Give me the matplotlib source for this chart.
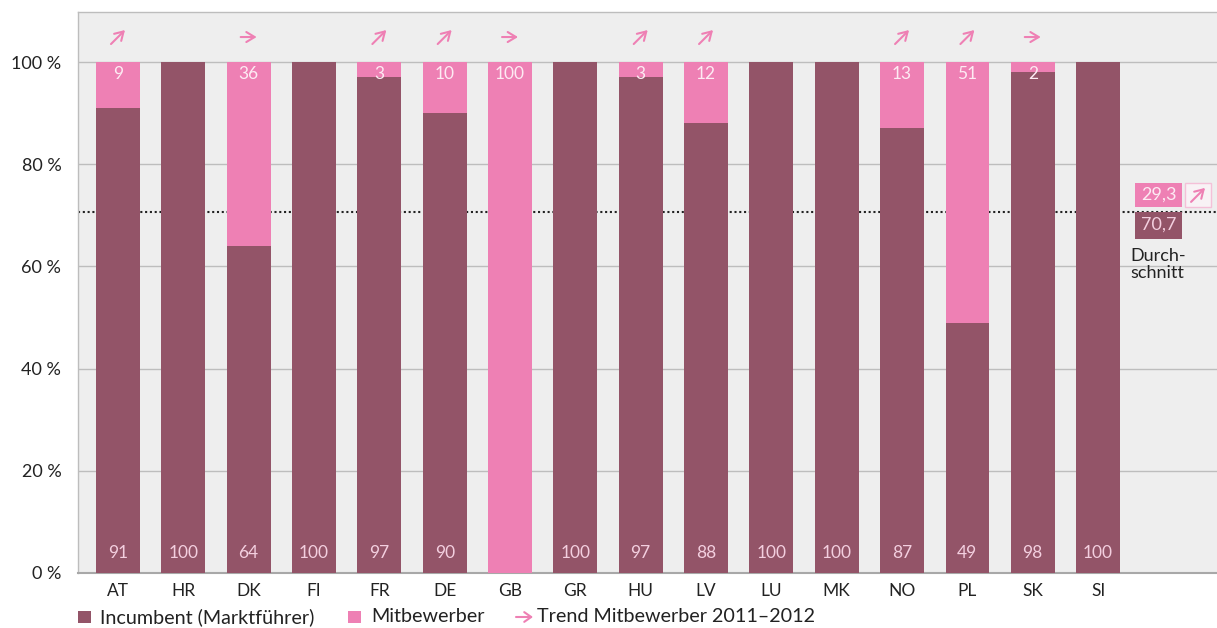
import matplotlib
matplotlib.use("Agg")
import matplotlib.pyplot as plt
from matplotlib.patches import Rectangle, FancyArrowPatch

plt.rcParams['font.family'] = ['Lato', 'DejaVu Sans']

# Market shares per country (percent)
countries = ["AT", "HR", "DK", "FI", "FR", "DE", "GB", "GR", "HU", "LV",
             "LU", "MK", "NO", "PL", "SK", "SI"]
incumbent = [91, 100, 64, 100, 97, 90, 0, 100, 97, 88, 100, 100, 87, 49, 98, 100]
competitors = [9, 0, 36, 0, 3, 10, 100, 0, 3, 12, 0, 0, 13, 51, 2, 0]
# Trend of competitors 2011-2012: "up", "flat" or "" (none)
trend = ["up", "", "flat", "", "up", "up", "flat", "", "up", "up",
         "", "", "up", "up", "flat", ""]
avg_incumbent = 70.7
avg_competitors = 29.3
avg_trend = "up"
yticks = [0, 20, 40, 60, 80, 100]

MAUVE = "#935468"
PINK = "#EE80B4"
BG = "#EEEEEE"
GRID = "#BDBDBD"
LABEL_DARK = "#F3CFDF"
LABEL_LIGHT = "#FDEBF3"
TEXT = "#222222"

W, H = 1217, 628
fig = plt.figure(figsize=(W / 100, H / 100), dpi=100)
ax = fig.add_axes([0.0641, 0.0876, 0.9359, 0.8933])
ax.set_facecolor(BG)

XMIN, XMAX, YMAX = -0.612, 16.82, 109.8
ax.set_xlim(XMIN, XMAX)
ax.set_ylim(0, YMAX)

# data units per pixel, for sizing the small trend arrows
ax_w_px = 0.9359 * W
ax_h_px = 0.8933 * H
PX_X = (XMAX - XMIN) / ax_w_px
PX_Y = YMAX / ax_h_px

ARROW_STYLE = "->,head_length=0.6,head_width=0.36"


def trend_arrow(xc, yc, kind, zorder=5):
    """Draw a small trend arrow centred at (xc, yc) in data coordinates."""
    if kind == "up":
        dx, dy = 7 * PX_X, 7 * PX_Y
    else:
        dx, dy = 8 * PX_X, 0
    ax.annotate("", xy=(xc + dx, yc + dy), xytext=(xc - dx, yc - dy),
                arrowprops=dict(arrowstyle=ARROW_STYLE, color=PINK, lw=1.5,
                                shrinkA=0, shrinkB=0),
                zorder=zorder, annotation_clip=False)


x = list(range(len(countries)))
w = 0.67
ax.bar(x, incumbent, width=w, color=MAUVE, zorder=3)
ax.bar(x, competitors, width=w, bottom=incumbent, color=PINK, zorder=3)

for xi, inc, comp, tr in zip(x, incumbent, competitors, trend):
    if inc > 0:
        ax.text(xi, 4.0, f"{inc}", ha="center", va="center", color=LABEL_DARK,
                fontsize=12.5, zorder=5)
    if comp > 0:
        ax.text(xi, 97.6, f"{comp}", ha="center", va="center", color=LABEL_LIGHT,
                fontsize=12.5, zorder=5)
    if tr:
        trend_arrow(xi, 104.9, tr)

# Average line
ax.axhline(avg_incumbent, color="#222222", linestyle=(0, (1, 1.3)),
           linewidth=1.5, zorder=2)

# Average boxes on the right
bx0, bx1 = 15.57, 16.29
ax.add_patch(Rectangle((bx0, avg_incumbent + 0.9), bx1 - bx0, 4.8,
                       facecolor=PINK, edgecolor="none", zorder=4))
ax.text((bx0 + bx1) / 2, avg_incumbent + 3.3, f"{avg_competitors:.1f}".replace(".", ","),
        ha="center", va="center", color=LABEL_LIGHT, fontsize=13, zorder=5)
ax.add_patch(Rectangle((bx0, avg_incumbent - 5.3), bx1 - bx0, 5.3,
                       facecolor=MAUVE, edgecolor="none", zorder=4))
ax.text((bx0 + bx1) / 2, avg_incumbent - 2.6, f"{avg_incumbent:.1f}".replace(".", ","),
        ha="center", va="center", color=LABEL_DARK, fontsize=13, zorder=5)
ax.add_patch(Rectangle((16.33, avg_incumbent + 0.9), 0.40, 4.8,
                       facecolor="#F8F2F5", edgecolor="#F4C0D8", linewidth=1, zorder=4))
trend_arrow(16.53, avg_incumbent + 3.3, avg_trend, zorder=6)
ax.text(bx0 - 0.08, avg_incumbent - 7.0, "Durch-\nschnitt", ha="left", va="top",
        fontsize=13, color=TEXT, linespacing=1.12, zorder=5)

ax.set_yticks(yticks)
ax.set_yticklabels([f"{t} %" for t in yticks], fontsize=13, color=TEXT)
ax.set_xticks(x)
ax.set_xticklabels(countries, fontsize=12.5, color=TEXT)
ax.tick_params(axis="both", length=0)
ax.tick_params(axis="y", pad=12)
ax.tick_params(axis="x", pad=7)
ax.grid(axis="y", color=GRID, linewidth=1, zorder=1)
ax.set_axisbelow(True)
for side in ["top", "left"]:
    ax.spines[side].set_color(GRID)
    ax.spines[side].set_linewidth(1)
ax.spines["right"].set_visible(False)
ax.spines["bottom"].set_color("#A8A8A8")
ax.spines["bottom"].set_linewidth(1.5)

# Legend row
ly = 1 - 617 / H
sq_w, sq_h = 13 / W, 12 / H
fig.patches.append(Rectangle((78 / W, ly - sq_h / 2), sq_w, sq_h,
                             transform=fig.transFigure, facecolor=MAUVE,
                             edgecolor="none"))
fig.text(100 / W, ly, "Incumbent (Marktführer)", ha="left", va="center",
         fontsize=14.2, color=TEXT)
fig.patches.append(Rectangle((348 / W, ly - sq_h / 2), sq_w, sq_h,
                             transform=fig.transFigure, facecolor=PINK,
                             edgecolor="none"))
fig.text(371 / W, ly, "Mitbewerber", ha="left", va="center",
         fontsize=14.2, color=TEXT)
fig.patches.append(FancyArrowPatch(
    (516 / W, ly), (533 / W, ly), transform=fig.transFigure,
    arrowstyle="->,head_length=5,head_width=3.5", color=PINK, lw=1.5,
    shrinkA=0, shrinkB=0))
fig.text(537 / W, ly, "Trend Mitbewerber 2011\u20132012", ha="left", va="center",
         fontsize=14.2, color=TEXT)

fig.savefig("out.png", dpi=100, facecolor="white")
